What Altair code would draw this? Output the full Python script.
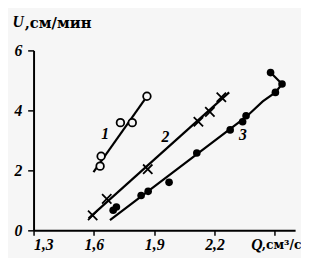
import altair as alt
import pandas as pd

# Series 1 (open circles)
s1_q = [1.631, 1.636, 1.732, 1.791, 1.864]
s1_u = [2.14, 2.47, 3.59, 3.59, 4.47]
# Series 2 (crosses)
s2_q = [1.594, 1.664, 1.868, 2.120, 2.177, 2.234]
s2_u = [0.50, 1.05, 2.04, 3.62, 3.95, 4.44]
# Series 3 (filled circles)
s3_q = [1.696, 1.712, 1.835, 1.870, 1.974, 2.112, 2.278, 2.340, 2.357, 2.479, 2.503, 2.536]
s3_u = [0.67, 0.78, 1.16, 1.30, 1.60, 2.58, 3.35, 3.62, 3.82, 5.26, 4.60, 4.88]

# Fitted lines
l1_q = [1.598, 1.864]
l1_u = [1.94, 4.47]
l2_q = [1.574, 2.273]
l2_u = [0.40, 4.60]
l3_q = [1.680, 2.357, 2.440, 2.503, 2.536, 2.479]
l3_u = [0.34, 3.78, 4.30, 4.60, 4.88, 5.26]

# Curve labels
lab_text = ["1", "2", "3"]
lab_q = [1.656, 1.956, 2.342]
lab_u = [3.20, 3.12, 3.18]

x_ticks = [1.3, 1.6, 1.9, 2.2, 2.5]
y_ticks = [0, 1, 2, 3, 4, 5, 6]

BG = "#f6f6f6"
FONT = "Liberation Serif"
CYR = "DejaVu Serif"

lines = pd.concat([
    pd.DataFrame({"q": l1_q, "u": l1_u, "s": "1", "o": range(len(l1_q))}),
    pd.DataFrame({"q": l2_q, "u": l2_u, "s": "2", "o": range(len(l2_q))}),
    pd.DataFrame({"q": l3_q, "u": l3_u, "s": "3", "o": range(len(l3_q))}),
])
d1 = pd.DataFrame({"q": s1_q, "u": s1_u})
d2 = pd.DataFrame({"q": s2_q, "u": s2_u})
d3 = pd.DataFrame({"q": s3_q, "u": s3_u})
dl = pd.DataFrame({"t": lab_text, "q": lab_q, "u": lab_u})

xs = alt.Scale(domain=[1.3, 2.601], nice=False, zero=False)
ys = alt.Scale(domain=[0, 6], nice=False, zero=False)

x_axis = alt.Axis(
    values=x_ticks, grid=False, domainColor="black", domainWidth=2,
    tickColor="black", tickWidth=1.5, tickSize=5,
    labelExpr="datum.value > 2.4 ? '' : replace(format(datum.value, '.1f'), '.', ',')",
    labelFont=FONT, labelFontSize=16, labelFontWeight="bold", labelFontStyle="italic",
    labelColor="black", labelPadding=2,
    title="Q", titleFont=FONT, titleFontSize=16, titleFontWeight="bold",
    titleFontStyle="italic", titleColor="black", titleX=221, titleY=15,
    titleAlign="left", titleBaseline="middle",
)
y_axis = alt.Axis(
    values=y_ticks, grid=False, domainColor="black", domainWidth=2,
    tickColor="black", tickWidth=1.5, tickSize=6,
    labelExpr="datum.value % 2 == 0 ? datum.value : ''",
    labelFont=FONT, labelFontSize=16, labelFontWeight="bold", labelFontStyle="italic",
    labelColor="black", labelPadding=6,
    title="U", titleFont=FONT, titleFontSize=16, titleFontWeight="bold",
    titleFontStyle="italic", titleColor="black", titleAngle=0, titleAlign="left",
    titleBaseline="middle", titleX=-22, titleY=-29,
)

base_x = alt.X("q:Q", scale=xs, axis=x_axis)
base_y = alt.Y("u:Q", scale=ys, axis=y_axis)

line_layer = alt.Chart(lines).mark_line(color="black", strokeWidth=2.2).encode(
    x=base_x, y=base_y, detail="s:N", order="o:Q"
)
p1 = alt.Chart(d1).mark_point(
    shape="circle", filled=True, fill=BG, stroke="black", strokeWidth=1.8, size=60, opacity=1
).encode(x="q:Q", y="u:Q")
p2 = alt.Chart(d2).mark_point(
    shape="M-1,-1L1,1M-1,1L1,-1", filled=False, stroke="black", strokeWidth=1.8, size=90, opacity=1
).encode(x="q:Q", y="u:Q")
p3 = alt.Chart(d3).mark_circle(color="black", size=60, opacity=1).encode(x="q:Q", y="u:Q")
txt = alt.Chart(dl).mark_text(
    font=FONT, fontSize=16, fontStyle="italic", fontWeight="bold", color="black"
).encode(x="q:Q", y="u:Q", text="t:N")

# unit annotations next to the axis letters
y_unit = alt.Chart(pd.DataFrame({"t": [",см/мин"]})).mark_text(
    font=CYR, fontSize=15, fontWeight="bold", color="black", align="left", baseline="middle"
).encode(x=alt.value(-9), y=alt.value(-28), text="t:N")
x_unit = alt.Chart(pd.DataFrame({"t": [",см³/с"]})).mark_text(
    font=CYR, fontSize=12.5, fontWeight="bold", color="black", align="left", baseline="middle"
).encode(x=alt.value(232), y=alt.value(198), text="t:N")

chart = alt.layer(line_layer, p1, p2, p3, txt, y_unit, x_unit).properties(
    width=266, height=183,
    background=BG,
    padding={"left": 26, "top": 41, "right": 6, "bottom": 26},
    autosize=alt.AutoSizeParams(type="none"),
).configure_view(stroke=None)

chart.save("out.html", embed_options={"renderer": "svg", "actions": False})
